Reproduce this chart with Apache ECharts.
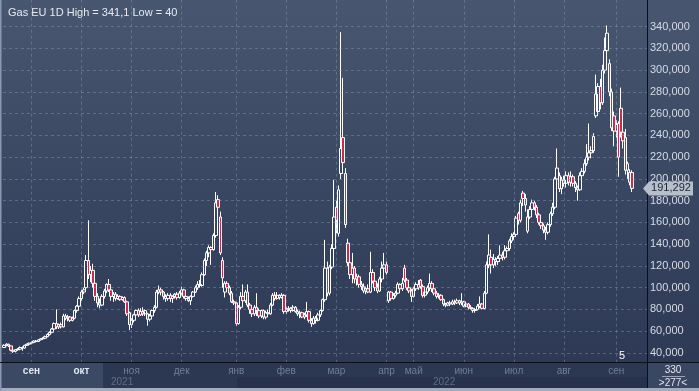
<!DOCTYPE html>
<html><head><meta charset="utf-8">
<script src="https://cdn.jsdelivr.net/npm/echarts@6/dist/echarts.min.js"></script>
<style>html,body{margin:0;padding:0;background:#2b3653}#c{width:699px;height:391px}</style>
</head><body><div id="c"></div>
<script>
// [open, close, low, high] per daily bar
const ohlc = [
[45,47,44.5,48],[47,48,46,49],[48,46.5,45.5,48.5],[46.5,42.5,41.5,47],[42.5,41.5,40,43],
[41.5,43,40.5,43.5],[43,43.5,42,44.5],[43.5,45,42.5,46],[45,44.5,42,46],[44.5,47,44,47.5],
[47,48,46.5,48.5],[48,49,47.5,49.5],[49,49.5,48,50.5],[49.5,51,49,51.5],[51,50.5,49.5,52],
[50.5,52,50,52.5],[52,53,51.5,53.5],[53,53.5,52,54.5],[53.5,55,53,56],[55,57,54.5,58],
[57,59,56,60],[59,62,58,63],[62,67,61,68],[67,64,62,80],[64,66,62,67],
[66,64,62.5,68],[64,74,63.5,76],[74,72,70,76],[72,73,69,75],[73,70,68.5,74],
[70,72,69,73.5],[72,79,71,80],[79,83,77,84],[83,90,82,92],[90,96,88,98],
[96,98,94,100],[100,125,98,130],[125,112,108,162],[112,116,105,120],[116,104,100,122],
[104,92,88,106],[92,86,82,95],[86,84,81,90],[84,92,83,94],[92,97,90,99],
[97,103,95,104],[103,98,96,108],[98,92,88,100],[92,94,87,96],[94,90,88,96],
[90,92,89,94],[92,89,88,93],[89,91,88,92],[91,87,86,92],[87,76,74,88],
[77,66,61,78],[66,70,63,72],[70,75,68,76],[75,79,73,80],[79,75,73,81],
[75,78,74,81],[78,76,74,82],[76,79,74,80],[76,71,65,77],[71,74,69,76],
[74,79,73,80],[79,82,77,84],[82,96,81,98],[96,98,94,102],[98,96,93,100],
[96,92,89,97],[92,90,87,94],[90,93,88,95],
[93,90,87,95],[90,92,86,93],[92,94,90,95],[94,91,89,96],[91,95,90,97],
[95,98,93,101],[98,92,90,99],[92,90,88,94],[90,88,87,92],[88,92,84,93],
[92,96,91,97],[96,100,95,102],[100,103,98,106],[103,102,100,107],[102,112,101,114],
[112,125,111,127],[125,132,120,134],[132,137,128,139],[137,135,121,138],[135,148,134,150],
[148,178,146,188],[181,174,170,185],[165,132,130,170],[125,109,100,128],[96,104,91,106],
[104,100,97,106],[100,95,93,102],[95,87,86,97],[87,86,84,89],[86,67,65,87],
[67,82,66,84],[82,92,80,96],[92,88,85,103],[88,96,86,98],[96,84,82,103],
[84,80,76,86],[80,76,73,82],[76,82,74,84],[82,79,74,95],[79,74,72,81],
[74,79,72,80],[79,73,71,80],[73,77,71,79],[77,76,74,80],[76,84,75,86],
[84,93,83,95],[93,90,88,96],[90,93,89,96],[93,91,89,94],[91,93,90,95],
[93,78,76,94],[78,80,76,82],[80,81,78,83],[81,79,77,82],[79,82,78,84],
[82,78,77,83],[78,76,74,80],[76,77,72,79],[77,73,72,78],[73,75,71,77],
[75,78,73,87],[78,70,68,79],[70,67,64,72],[67,72,66,74],[72,70,67,74],
[70,75,69,77],[75,79,73,80],[79,89,78,90],[89,118,87,144],[118,95,92,124],
[95,119,93,121],[119,136,117,140],[136,165,134,199],[174,162,150,180],[150,190,147,194],
[205,228,200,335],[238,215,205,293],[205,158,155,210],[141,123,120,145],[123,112,108,128],
[112,118,104,132],[118,108,104,120],[108,110,102,113],[110,103,100,112],[103,101,98,106],
[101,97,95,104],[97,99,94,101],[99,96,95,103],[96,114,95,133],[114,106,104,117],
[106,100,97,108],[100,97,95,104],[97,108,96,110],[108,118,105,124],[118,121,110,132],
[121,114,112,124],[88,96,86,97],[96,90,88,97],[90,93,89,95],[93,95,91,97],
[95,103,94,105],[103,99,97,104],[99,104,97,109],[118,107,105,121],[107,100,98,109],
[100,97,95,102],[97,92,87,99],[92,99,91,101],[99,103,97,105],[103,100,98,107],
[107,101,99,108],[101,93,91,103],[93,96,91,99],[96,100,94,102],[100,104,97,113],
[104,99,96,106],[99,95,93,100],[95,92,90,97],[92,93,90,95],[93,89,88,94],
[89,85,83,90],[85,84,82,86],[84,86,83,87],[86,85,83,88],[85,87,84,89],
[87,86,84,89],[86,88,85,90],[88,86,84,89],[86,87,84,95],[87,83,82,88],
[83,85,82,87],[85,82,80,86],[82,81,80,84],[81,79,77,82],[79,80,77,81],
[80,83,79,85],[83,85,81,92],[85,81,80,86],[81,95,80,97],[95,121,94,124],
[121,130,118,149],[128,121,113,135],[121,126,118,131],[126,124,120,128],[124,127,121,129],
[127,130,124,139],[130,128,125,133],[128,134,126,139],[134,136,130,138],[136,143,134,145],
[143,147,141,150],[147,149,144,151],[149,164,147,166],[168,162,158,170],[162,178,160,181],
[187,182,175,189],[182,176,170,186],[152,165,150,172],[165,172,163,175],[172,178,170,181],
[178,174,171,180],[174,167,164,176],[167,160,158,169],[160,157,154,162],[157,153,150,159],
[153,151,144,156],[151,158,149,160],[158,168,156,170],[168,174,166,178],[174,200,172,202],
[200,210,198,228],[203,191,188,206],[191,199,186,202],[199,196,193,203],[196,203,192,207],
[203,197,194,206],[197,202,193,207],[202,196,193,204],[196,192,188,198],[192,190,180,194],
[190,203,189,206],[203,207,200,210],[207,214,205,218],[214,220,212,232],[220,224,217,251],
[224,226,219,230],[226,239,224,242],[258,278,256,296],[262,285,258,288],[285,270,264,292],
[270,300,268,305],[300,318,297,330],[318,334,312,341.1],[306,280,276,310],[280,247,244,283],
[258,244,230,262],[244,250,238,254],[251,220,202,253],[265,243,238,284],[243,235,228,246],
[238,208,204,246],[208,214,200,216],[206,197,194,209],[206,191.292,188,208]
];
const yTicks = [40,60,80,100,120,140,160,180,200,220,240,260,280,300,320,340];
const monthNames = ['сен','окт','ноя','дек','янв','фев','мар','апр','май','июн','июл','авг','сен'];
const monthIdx = [12,34,56,78,102,124,146,168,180,202,224,246,269];
const yearLabels = ['2021','2022'];
const titleText = 'Gas EU 1D High = 341,1 Low = 40';
const barsText = '330';
const visibleText = '>277<';
const countdownText = '5';
const nSlots = 283;

const categories = [];
for (let i = 0; i < nSlots; i++) categories.push(String(i));
const fmt = v => v.toFixed(3).replace('.', ',');
const narrow = "'Liberation Sans Narrow','Liberation Sans',Arial,sans-serif";
const sans = "'Liberation Sans',Arial,sans-serif";

const chart = echarts.init(document.getElementById('c'), null, {renderer: 'canvas'});
const option = {
  animation: false,
  backgroundColor: {type: 'linear', x: 0, y: 0, x2: 0, y2: 1, colorStops: [
    {offset: 0, color: '#48566f'}, {offset: 0.92, color: '#2d3955'}, {offset: 1, color: '#2a3550'}]},
  title: {text: titleText, left: 3, top: 2, textStyle: {color: '#e6eaf0', fontSize: 11, fontWeight: 'normal', fontFamily: sans}},
  grid: {left: 3, right: 52, top: 0, height: 374.7},
  xAxis: {
    type: 'category', data: categories, boundaryGap: true, offset: -12.7, z: 20,
    axisLine: {show: false}, axisTick: {show: false}, splitLine: {show: false},
    axisLabel: {
      interval: (index) => monthIdx.includes(index),
      margin: 4,
      formatter: (value, index) => {
        const k = monthIdx.indexOf(Number(value));
        if (k < 0) return '';
        return (k < 2 ? '{b|' : '{n|') + monthNames[k] + '}';
      },
      rich: {
        b: {color: '#dfe6f0', fontSize: 10, fontWeight: 'bold', fontFamily: sans},
        n: {color: '#6f7e99', fontSize: 10, fontFamily: sans}
      }
    }
  },
  yAxis: {
    type: 'value', position: 'right', min: 20, max: 364.55, interval: 20, scale: false,
    axisLine: {show: false}, axisTick: {show: false}, splitLine: {show: false},
    axisLabel: {margin: 3, color: '#d6dbe4', fontSize: 11, fontFamily: narrow,
      formatter: v => yTicks.includes(v) ? fmt(v) : ''}
  },
  series: [{
    type: 'candlestick', data: ohlc, barWidth: 3,
    itemStyle: {color: 'rgba(0,0,0,0)', color0: '#c42e4e', borderColor: '#ffffff', borderColor0: '#ffffff', borderWidth: 1},
    markLine: {
      silent: true, symbol: ['none', 'none'], label: {show: false},
      lineStyle: {color: 'rgba(150,165,195,0.38)', type: [3, 3], width: 1},
      data: [...yTicks.map(v => ({yAxis: v})), ...monthIdx.map(i => ({xAxis: i}))]
    }
  }],
  graphic: [
    {id: 'bandA', type: 'rect', z: 10, shape: {x: 0, y: 362, width: 103, height: 26}, style: {fill: '#3c4965'}},
    {id: 'bandB', type: 'rect', z: 10, shape: {x: 103, y: 362, width: 544, height: 26}, style: {fill: '#2c3752'}},
    {id: 'bandC', type: 'rect', z: 10, shape: {x: 237, y: 377, width: 410, height: 11}, style: {fill: '#27314b'}},
    {id: 'bandD', type: 'rect', z: 10, shape: {x: 647, y: 362, width: 52, height: 26}, style: {fill: '#3a4762'}},
    {id: 'frameB', type: 'rect', z: 10, shape: {x: 0, y: 388, width: 699, height: 3}, style: {fill: '#a3acba'}},
    {id: 'frameL', type: 'rect', z: 10, shape: {x: 0, y: 0, width: 1.5, height: 391}, style: {fill: '#8a98b0'}},
    {id: 'lineH', type: 'line', z: 11, shape: {x1: 0, y1: 362.5, x2: 699, y2: 362.5}, style: {stroke: '#0b0f18', lineWidth: 1}},
    {id: 'lineV', type: 'line', z: 11, shape: {x1: 647.5, y1: 0, x2: 647.5, y2: 388}, style: {stroke: '#0b0f18', lineWidth: 1}},
    {id: 'y1', type: 'text', z: 12, x: 111, y: 382, style: {text: yearLabels[0], fill: '#5f6d88', fontSize: 10, fontFamily: sans, verticalAlign: 'middle', align: 'left'}},
    {id: 'y2', type: 'text', z: 12, x: 433, y: 382, style: {text: yearLabels[1], fill: '#5f6d88', fontSize: 10, fontFamily: sans, verticalAlign: 'middle', align: 'left'}},
    {id: 'bars', type: 'text', z: 12, x: 673, y: 370, style: {text: barsText, fill: '#e2e6ee', fontSize: 10, fontFamily: sans, align: 'center', verticalAlign: 'middle'}},
    {id: 'barsLine', type: 'line', z: 12, shape: {x1: 662, y1: 376.5, x2: 685, y2: 376.5}, style: {stroke: '#9aa4b5', lineWidth: 1}},
    {id: 'vis', type: 'text', z: 12, x: 673, y: 383, style: {text: visibleText, fill: '#e2e6ee', fontSize: 10, fontFamily: sans, align: 'center', verticalAlign: 'middle'}},
    {id: 'cd', type: 'text', z: 12, x: 622, y: 356, style: {text: countdownText, fill: '#ffffff', fontSize: 11, fontFamily: sans, align: 'center', verticalAlign: 'middle'}}
  ]
};
chart.setOption(option);

const last = ohlc[ohlc.length - 1][1];
let ty = chart.convertToPixel({yAxisIndex: 0}, last);
if (!isFinite(ty)) ty = 188.4;
chart.setOption({graphic: [
  {id: 'tagBox', type: 'polygon', z: 15, shape: {points: [[643, ty], [649, ty - 7], [693, ty - 7], [693, ty + 7], [649, ty + 7]]}, style: {fill: '#b7bfcb'}},
  {id: 'tagText', type: 'text', z: 16, x: 671, y: ty, style: {text: fmt(last), fill: '#1d2430', fontSize: 11, fontFamily: narrow, align: 'center', verticalAlign: 'middle'}}
]});
</script></body></html>
